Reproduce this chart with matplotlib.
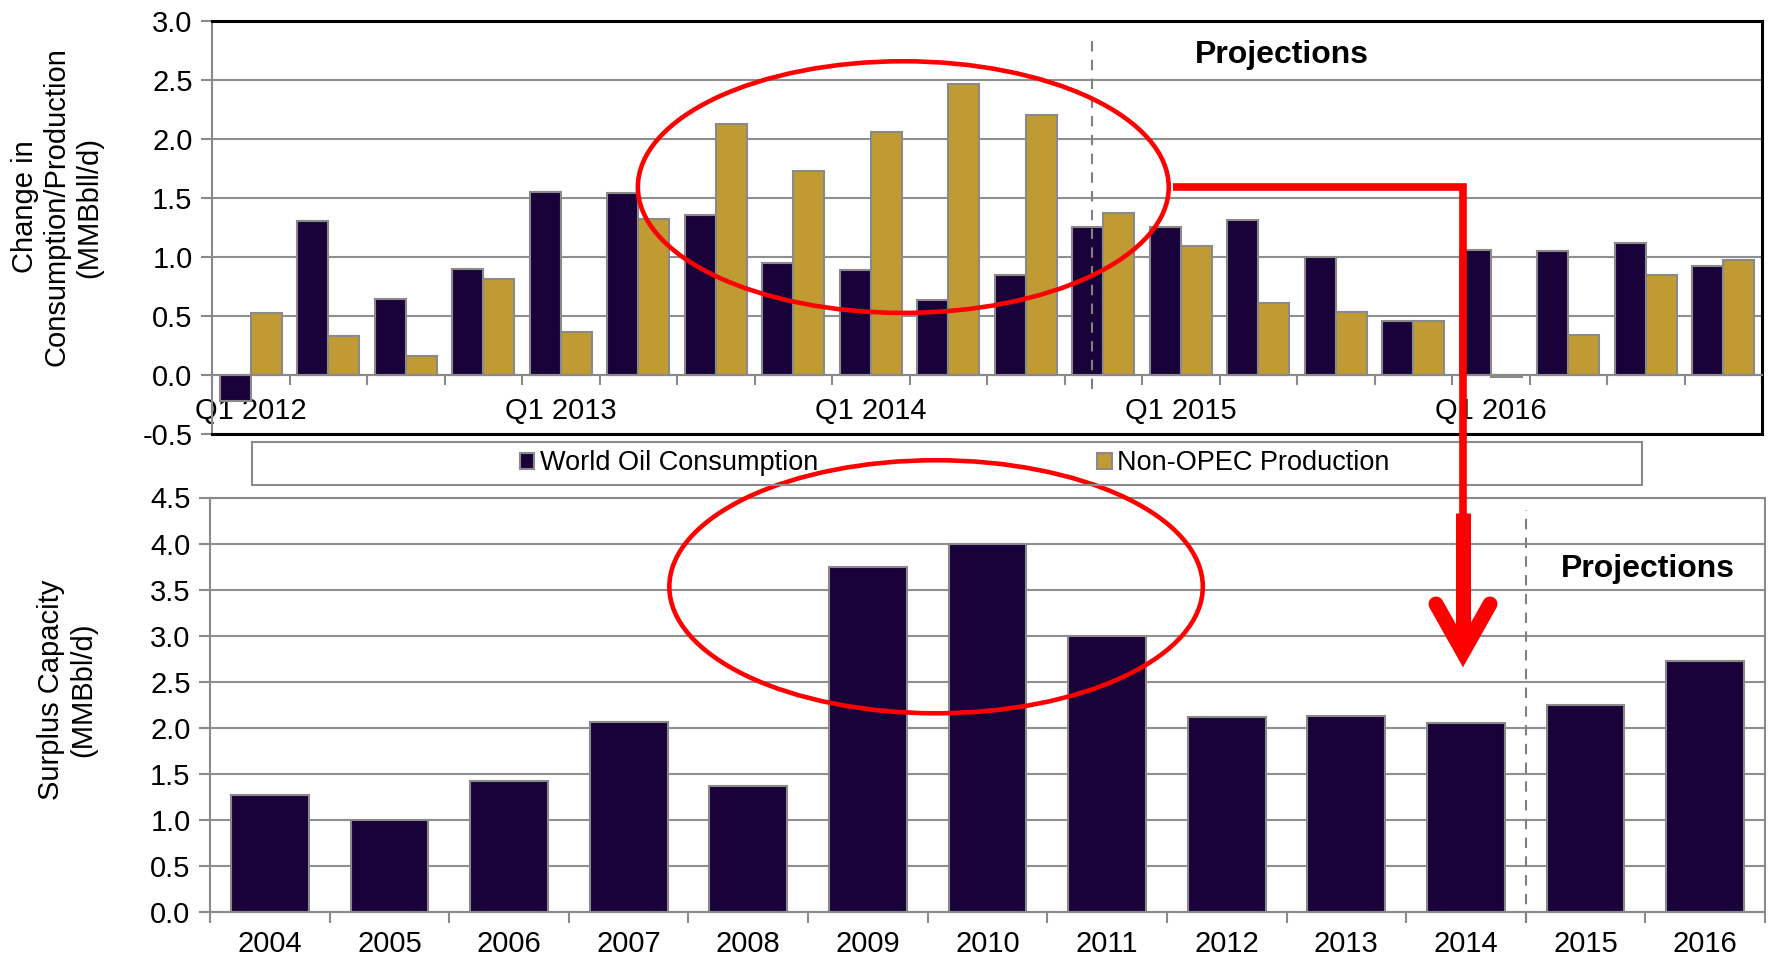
import numpy as np
import matplotlib
matplotlib.use("Agg")
import matplotlib.pyplot as plt
from matplotlib.patches import Ellipse, Rectangle
from matplotlib.lines import Line2D

plt.rcParams["font.family"] = ["Liberation Sans", "DejaVu Sans"]

# ---------------------------- data ---------------------------- #
quarters = [f"Q{q} {y}" for y in range(2012, 2017) for q in range(1, 5)]
world_consumption = [-0.22, 1.30, 0.64, 0.90, 1.55, 1.54, 1.35, 0.95, 0.89, 0.63,
                     0.85, 1.25, 1.25, 1.31, 1.00, 0.46, 1.06, 1.05, 1.12, 0.92]
non_opec_production = [0.52, 0.33, 0.16, 0.81, 0.36, 1.32, 2.12, 1.73, 2.06, 2.46,
                       2.20, 1.37, 1.09, 0.61, 0.53, 0.46, -0.02, 0.34, 0.85, 0.97]
years = [str(y) for y in range(2004, 2017)]
surplus_capacity = [1.27, 1.00, 1.42, 2.06, 1.36, 3.75, 3.99, 3.00,
                    2.11, 2.13, 2.05, 2.24, 2.72]

DARK = "#19023a"
GOLD = "#c09b33"
EDGE = "#8a8a8a"
GRID = "#8f8f8f"
RED = "#ff0000"
TICK_FS = 21
LABEL_FS = 21

W, H = 1769, 959
fig = plt.figure(figsize=(W / 100, H / 100), dpi=100)


def px(x, y):
    """Figure pixel (from top-left) -> figure fraction."""
    return x / W, 1 - y / H


# ------------------------- top panel -------------------------- #
ax1 = fig.add_axes([212 / W, 1 - 434 / H, 1550 / W, 413.5 / H])
x = np.arange(len(quarters))
bw = 0.4
ax1.bar(x - bw / 2, world_consumption, bw, color=DARK, edgecolor=EDGE,
        linewidth=1.5, label="World Oil Consumption", zorder=2)
ax1.bar(x + bw / 2, non_opec_production, bw, color=GOLD, edgecolor=EDGE,
        linewidth=1.5, label="Non-OPEC Production", zorder=2)
ax1.set_xlim(-0.5, len(quarters) - 0.5)
ax1.set_ylim(-0.5, 3.0)
ax1.set_yticks(np.arange(-0.5, 3.01, 0.5))
ax1.set_yticklabels([f"{v:.1f}" for v in np.arange(-0.5, 3.01, 0.5)])
ax1.set_xticks(x[::4])
ax1.set_xticklabels(quarters[::4])
ax1.set_xticks(np.arange(-0.5, len(quarters), 1), minor=True)
ax1.tick_params(axis="x", which="major", length=0, pad=16, labelsize=TICK_FS)
ax1.tick_params(axis="x", which="minor", length=7, width=1.5, color=EDGE)
ax1.tick_params(axis="y", length=8, width=1.5, color=EDGE, labelsize=TICK_FS, pad=6)
ax1.yaxis.grid(True, color=GRID, linewidth=1.5)
ax1.set_axisbelow(True)
ax1.spines["bottom"].set_position(("data", 0))
ax1.spines["bottom"].set_color(EDGE)
ax1.spines["bottom"].set_linewidth(1.5)
ax1.spines["left"].set_color(EDGE)
ax1.spines["left"].set_linewidth(1.5)
for s in ("top", "right"):
    ax1.spines[s].set_color("black")
    ax1.spines[s].set_linewidth(2.2)
ax1.plot([0, 1], [0, 0], transform=ax1.transAxes, color="black",
         linewidth=2.2, clip_on=False, zorder=3)
ax1.plot([10.85, 10.85], [-0.12, 2.87], color="#808080", linestyle=(0, (5, 4)),
         linewidth=1.5, clip_on=False, zorder=3)
ax1.text(13.3, 2.71, "Projections", fontsize=23, fontweight="bold",
         ha="center", va="center")
ax1.add_patch(Ellipse((8.42, 1.59), 6.85, 2.13, fill=False, edgecolor=RED,
                      linewidth=3.3, zorder=5, clip_on=False))

# ------------------------ bottom panel ------------------------ #
ax2 = fig.add_axes([210 / W, 1 - 911.6 / H, 1555 / W, 414.1 / H])
xb = np.arange(len(years))
ax2.bar(xb, surplus_capacity, 0.65, color=DARK, edgecolor=EDGE,
        linewidth=1.5, zorder=2)
ax2.set_xlim(-0.5, len(years) - 0.5)
ax2.set_ylim(0, 4.5)
ax2.set_yticks(np.arange(0, 4.51, 0.5))
ax2.set_yticklabels([f"{v:.1f}" for v in np.arange(0, 4.51, 0.5)])
ax2.set_xticks(xb)
ax2.set_xticklabels(years)
ax2.set_xticks(np.arange(-0.5, len(years), 1), minor=True)
ax2.tick_params(axis="x", which="major", length=0, pad=13, labelsize=TICK_FS)
ax2.tick_params(axis="x", which="minor", length=8, width=1.5, color=EDGE)
ax2.tick_params(axis="y", length=8, width=1.5, color=EDGE, labelsize=TICK_FS, pad=6)
ax2.yaxis.grid(True, color=GRID, linewidth=1.5)
ax2.set_axisbelow(True)
for s in ax2.spines.values():
    s.set_color(EDGE)
    s.set_linewidth(1.5)
ax2.plot([10.5, 10.5], [-0.12, 4.36], color="#808080", linestyle=(0, (5, 4)),
         linewidth=1.5, clip_on=False, zorder=3)
ax2.text(11.52, 3.72, "Projections", fontsize=23, fontweight="bold",
         ha="center", va="center")
ax2.add_patch(Ellipse((5.57, 3.53), 4.46, 2.75, fill=False, edgecolor=RED,
                      linewidth=3.3, zorder=5, clip_on=False))

# ----------------------- axis labels -------------------------- #
fig.text(*px(57, 207), "Change in\nConsumption/Production\n(MMBbll/d)",
         rotation=90, ha="center", va="center", fontsize=LABEL_FS, linespacing=1.2)
fig.text(*px(67, 690), "Surplus Capacity\n(MMBbl/d)",
         rotation=90, ha="center", va="center", fontsize=LABEL_FS, linespacing=1.2)

# -------------------------- legend ---------------------------- #
fig.add_artist(Rectangle(px(252, 485), (1641.6 - 252) / W, 43.3 / H,
                         transform=fig.transFigure, fill=False,
                         edgecolor=EDGE, linewidth=1.5))
handles, labels = ax1.get_legend_handles_labels()
fig.legend(handles, labels, loc="center", bbox_to_anchor=px(955, 463.5),
           ncol=2, frameon=False, fontsize=19.5, handlelength=0.52,
           handleheight=0.52, handletextpad=0.22, columnspacing=10.3,
           borderpad=0, borderaxespad=0)

# ------------------------ red arrow --------------------------- #
path = [px(1173, 187.3), px(1463, 187.3), px(1463, 515)]
fig.add_artist(Line2D([p[0] for p in path], [p[1] for p in path],
                      transform=fig.transFigure, color=RED, linewidth=5.5,
                      solid_joinstyle="miter", solid_capstyle="butt"))
shaft = [px(1463, 513), px(1463, 640)]
fig.add_artist(Line2D([p[0] for p in shaft], [p[1] for p in shaft],
                      transform=fig.transFigure, color=RED, linewidth=10.8,
                      solid_capstyle="butt"))
head = [px(1436, 604), px(1463, 652), px(1490, 604)]
fig.add_artist(Line2D([p[0] for p in head], [p[1] for p in head],
                      transform=fig.transFigure, color=RED, linewidth=10.8,
                      solid_joinstyle="miter", solid_capstyle="round"))

fig.savefig("out.png", dpi=100)
